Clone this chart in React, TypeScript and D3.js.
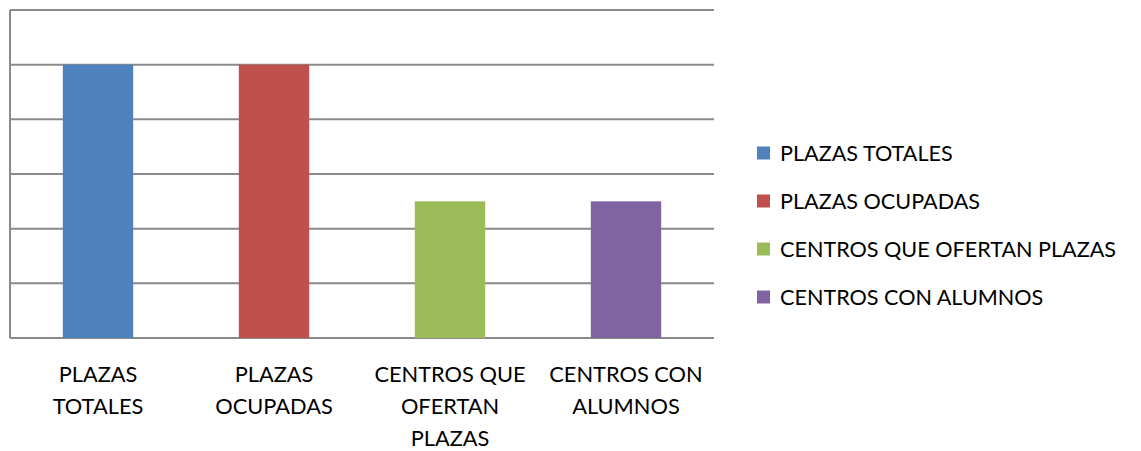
import React from "react";
import * as d3 from "d3";

const categories = ["PLAZAS TOTALES", "PLAZAS OCUPADAS", "CENTROS QUE OFERTAN PLAZAS", "CENTROS CON ALUMNOS"];
const categoryLines = [["PLAZAS", "TOTALES"], ["PLAZAS", "OCUPADAS"], ["CENTROS QUE", "OFERTAN", "PLAZAS"], ["CENTROS CON", "ALUMNOS"]];
const values = [5, 5, 2.5, 2.5];
const colors = ["#4F81BD", "#C0504D", "#9BBB59", "#8064A2"];
const yTicks = [0, 1, 2, 3, 4, 5, 6];

export default function App() {
  const W = 1141, H = 451;
  const left = 10, right = 714, top = 10, bottom = 338;
  const x = d3.scaleBand<string>().domain(categories).range([left, right]).paddingInner(0.6).paddingOuter(0.3);
  const y = d3.scaleLinear().domain([0, 6]).range([bottom, top]);
  const font = "Lato, 'Open Sans', sans-serif";
  return (
    <svg width={W} height={H} style={{ position: "absolute", left: 0, top: 0, background: "#fff" }}>
      {yTicks.map((t) => (
        <line key={t} x1={left} x2={right} y1={y(t)} y2={y(t)} stroke="#8a8a8a" strokeWidth={2} />
      ))}
      <line x1={left} x2={left} y1={top} y2={bottom} stroke="#8a8a8a" strokeWidth={2} />
      {categories.map((c, i) => (
        <rect key={c} x={x(c)} y={y(values[i])} width={x.bandwidth()} height={y(0) - y(values[i])} fill={colors[i]} />
      ))}
      {categories.map((c, i) => (
        <text key={c} x={(x(c) as number) + x.bandwidth() / 2} y={382} textAnchor="middle" fontFamily={font} fontSize={21.8} fill="#000">
          {categoryLines[i].map((l, j) => (
            <tspan key={j} x={(x(c) as number) + x.bandwidth() / 2} dy={j === 0 ? 0 : 32}>{l}</tspan>
          ))}
        </text>
      ))}
      {categories.map((c, i) => (
        <g key={c} transform={`translate(757, ${153 + i * 48})`}>
          <rect x={0} y={-6.5} width={13} height={13} fill={colors[i]} />
          <text x={23} y={7.5} fontFamily={font} fontSize={21.6} fill="#000">{c}</text>
        </g>
      ))}
    </svg>
  );
}
